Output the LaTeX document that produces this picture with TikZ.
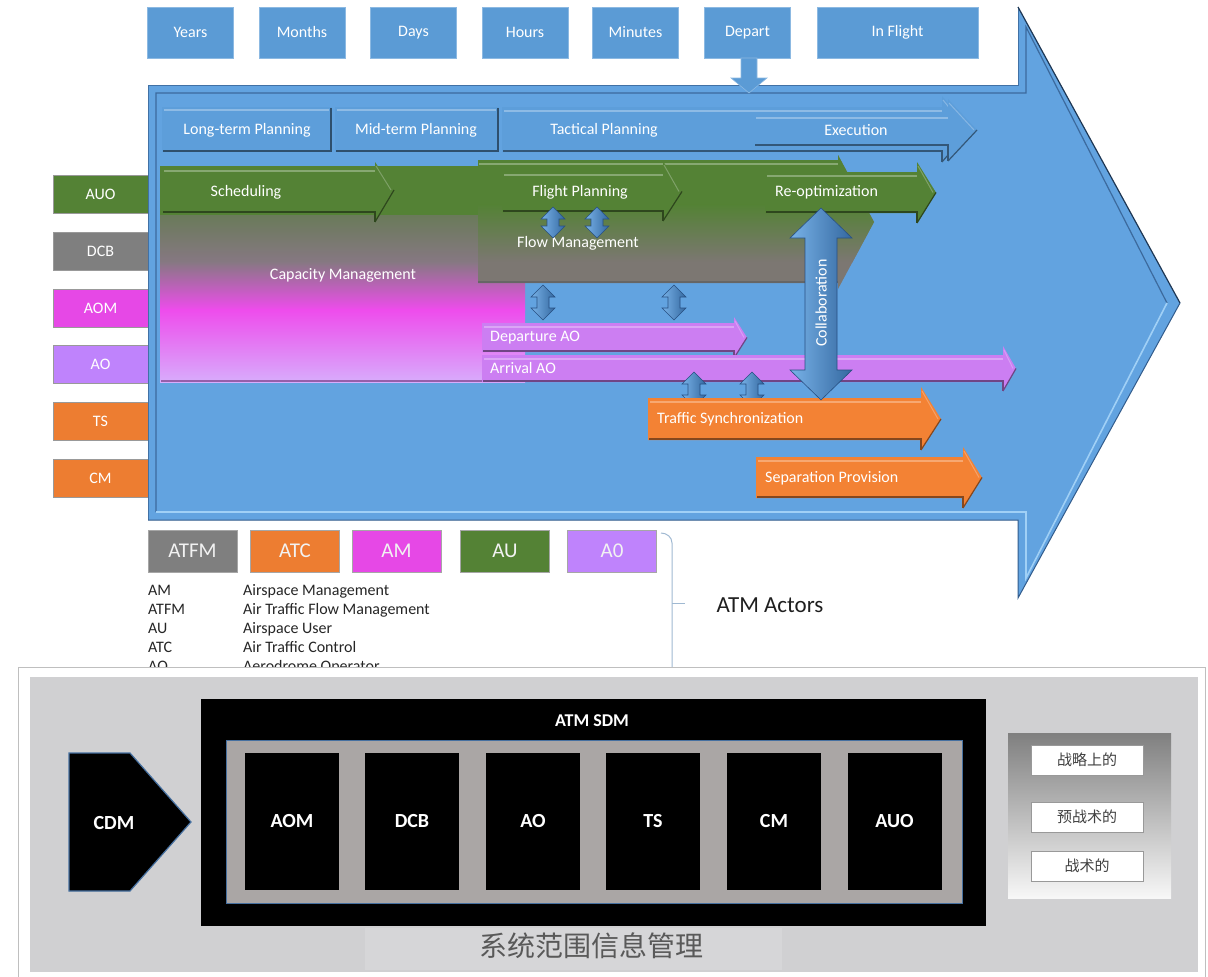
\documentclass[tikz,border=0pt]{standalone}
\usepackage{fontspec}
\setmainfont{Carlito}
\newfontfamily\cjk{Noto Sans CJK SC}
\usetikzlibrary{calc}

% palette
\definecolor{bfill}{RGB}{98,163,224}
\definecolor{bedge}{RGB}{50,92,140}
\definecolor{bhi}{RGB}{160,208,246}
\definecolor{tbox}{RGB}{91,155,213}
\definecolor{phase}{RGB}{93,158,218}
\definecolor{grn}{RGB}{84,130,53}
\definecolor{gry}{RGB}{127,127,127}
\definecolor{mag}{RGB}{230,72,230}
\definecolor{lav}{RGB}{191,131,252}
\definecolor{org}{RGB}{237,125,49}
\definecolor{parr}{RGB}{204,126,242}
\definecolor{oarr}{RGB}{243,130,52}
\definecolor{cm1}{RGB}{106,122,90}
\definecolor{cm2}{RGB}{134,120,130}
\definecolor{cm3}{RGB}{238,76,236}
\definecolor{cm4}{RGB}{216,172,252}
\definecolor{cmedge}{RGB}{150,95,170}
\definecolor{fmgray}{RGB}{124,119,114}
\definecolor{dblL}{RGB}{120,178,232}
\definecolor{dblR}{RGB}{52,104,160}
\definecolor{dblE}{RGB}{40,80,130}
\definecolor{panel}{RGB}{208,208,210}
\definecolor{band}{RGB}{214,214,216}
\definecolor{inner}{RGB}{170,166,165}
\definecolor{frameblue}{RGB}{70,112,160}
\definecolor{brk}{RGB}{160,185,210}

\tikzset{
  txt/.style={text=white, inner sep=0pt, font=\fontsize{16}{18}\selectfont},
  topbox/.style={fill=tbox, draw=tbox!70!white, line width=0.8pt, minimum width=86pt,
    minimum height=51pt, inner sep=0pt, text=white, font=\fontsize{16}{18}\selectfont},
  actor/.style={draw=black!40, line width=0.6pt, minimum width=95pt, minimum height=38pt,
    inner sep=0pt, text=white, font=\fontsize{16}{18}\selectfont},
  legbox/.style={draw=black!35, line width=0.6pt, minimum width=89pt, minimum height=42pt,
    inner sep=0pt, text=white!95!black, font=\fontsize{21}{24}\selectfont},
  legtxt/.style={inner sep=0pt, anchor=base west, text=black!85, font=\fontsize{16}{18}\selectfont},
  sdmbox/.style={fill=black, minimum width=94pt, minimum height=137pt, inner sep=0pt,
    text=white, font=\bfseries\fontsize{20}{22}\selectfont},
  stagebox/.style={fill=white, draw=black!40, line width=0.8pt, minimum width=112pt,
    minimum height=30pt, inner sep=0pt, text=black!75, font=\cjk\fontsize{15}{17}\selectfont},
  dbl/.style={left color=dblL, right color=dblR, draw=dblE, line width=0.6pt},
}

% bevelled block arrow: colour, x left, y top, y bottom, x head start, x tip, head top, head bottom, name
\newcommand{\bevelarrow}[9]{%
  \pgfmathsetmacro{\ymid}{(#3+#4)/2}%
  \coordinate (#9) at (#2,\ymid);
  \fill[#1] (#2,#3) -- (#5,#3) -- (#5,#7) -- (#6,\ymid) -- (#5,#8) -- (#5,#4) -- (#2,#4) -- cycle;
  \draw[#1!70!white, line width=2pt] (#2+2,#3+3.5) -- (#5,#3+3.5);
  \draw[#1!75!white, line width=1pt] (#5+1,#7+4) -- (#6-3,\ymid);
  \draw[#1!55!black, line width=2.2pt] (#2+1,#4-1.1) -- (#5,#4-1.1) -- (#5,#8);
  \draw[#1!55!black, line width=1.2pt] (#5,#8) -- (#6,\ymid);
}

% bevelled block: colour, x1, y1, x2, y2
\newcommand{\bevelbox}[5]{%
  \fill[#1] (#2,#3) rectangle (#4,#5);
  \draw[#1!70!white, line width=2pt] (#2+2,#3+3) -- (#4-3,#3+3);
  \draw[#1!50!black, line width=2.5pt] (#2+1,#5-1.2) -- (#4-1.2,#5-1.2) -- (#4-1.2,#3+1);
}

% vertical two-headed arrow: x centre, y top, y bottom, half shaft, half head, head length
\newcommand{\updown}[6]{%
  \path[dbl] (#1,#2) -- (#1+#5,#2+#6) -- (#1+#4,#2+#6) -- (#1+#4,#3-#6) -- (#1+#5,#3-#6)
    -- (#1,#3) -- (#1-#5,#3-#6) -- (#1-#4,#3-#6) -- (#1-#4,#2+#6) -- (#1-#5,#2+#6) -- cycle;
}

\begin{document}
\begin{tikzpicture}[x=1pt,y=-1pt]
\useasboundingbox[fill=white] (0,0) rectangle (1208,977);

% ---------- time scale ----------
\node[topbox] (years)   at (190.5,32.5) {Years};
\node[topbox] (months)  at (302,32.5)   {\raisebox{-3pt}{Months}};
\node[topbox] (days)    at (413.5,32.5) {Days};
\node[topbox] (hours)   at (525,32.5)   {Hours};
\node[topbox] (minutes) at (635.5,32.5) {\raisebox{-3pt}{Minutes}};
\node[topbox] (depart)  at (747.5,32.5) {Depart};
\node[topbox, minimum width=161pt] (inflight) at (897.5,32.5) {In Flight};

% ---------- actor labels on the left ----------
\node[actor, fill=grn] (lAUO) at (100.5,194) {AUO};
\node[actor, fill=gry] (lDCB) at (100.5,251) {DCB};
\node[actor, fill=mag] (lAOM) at (100.5,308) {AOM};
\node[actor, fill=lav] (lAO)  at (100.5,364) {AO};
\node[actor, fill=org] (lTS)  at (100.5,421) {TS};
\node[actor, fill=org] (lCM)  at (100.5,478) {CM};

% ---------- big timeline arrow ----------
\fill[bfill] (148,85) -- (1018,85) -- (1018,7) -- (1180,303) -- (1018,598) -- (1018,520) -- (148,520) -- cycle;
\draw[bedge!70!bfill, line width=1pt] (148,520) -- (148,85) -- (1018,85) -- (1018,7);
\draw[bedge!60!black, line width=1.2pt] (1018,7) -- (1180,303);
\draw[bedge, line width=1pt] (1180,303) -- (1018,598) -- (1018,520) -- (148,520);
\draw[bedge!80!bfill, line width=1.2pt] (156,512) -- (156,93) -- (1026,93) -- (1026,27) -- (1167,303);
\draw[bhi, line width=1.6pt] (156,512) -- (1026,512) -- (1026,578) -- (1167,303);

% departure marker
\fill[tbox, draw=tbox!70!white, line width=0.6pt] (741,58) -- (757,58) -- (757,78) -- (767,78) -- (749,93) -- (731,78) -- (741,78) -- cycle;

% ---------- planning phases ----------
\bevelbox{phase}{162}{107}{332}{152}
\bevelbox{phase}{335}{107}{499}{152}
\bevelarrow{phase}{502}{107}{152}{942}{970}{96}{162}{pTac}
\bevelarrow{phase}{754}{114}{146}{948}{977}{99}{161}{pExe}
\node[txt] (tLong) at (247,130) {Long-term Planning};
\node[txt] (tMid)  at (416,130) {Mid-term Planning};
\node[txt] (tTac)  at (604,130) {Tactical Planning};
\node[txt] (tExe)  at (856,130) {Execution};

% ---------- capacity management ----------
\fill[grn] (160,166) rectangle (525,216);
\shade[top color=cm1, bottom color=cm2] (160,215.5) rectangle (525,262);
\shade[top color=cm2, bottom color=cm3] (160,261.5) rectangle (525,310);
\shade[top color=cm3, bottom color=cm4] (160,309.5) rectangle (525,382);
\draw[cmedge, line width=2pt] (161,381) -- (524,381);
\bevelarrow{grn}{162}{167}{213}{375}{394}{162}{222}{aSched}
\node[txt] (tSched) at (246,192) {Scheduling};
\node[txt] (tCap) at (343,275) {Capacity Management};

% ---------- flow management ----------
\begin{scope}
  \clip (478,160) -- (838,160) -- (838,155) -- (874,222) -- (838,289) -- (838,283) -- (478,283) -- cycle;
  \fill[fmgray] (470,150) rectangle (880,295);
  \fill[grn] (470,150) rectangle (880,205);
  \shade[top color=grn, bottom color=fmgray] (470,204.5) rectangle (880,262);
  \draw[grn!70!white, line width=1.5pt] (479,164) -- (838,164);
  \draw[black!60, line width=2.5pt] (478,282) -- (838,282);
\end{scope}
\bevelarrow{grn}{502}{171}{212}{663}{682}{161}{221}{aFP}
\bevelarrow{grn}{765}{172}{213}{917}{936}{162}{223}{aReopt}
\node[txt] (tFP) at (580,192) {Flight Planning};
\node[txt] (tFM) at (578,243) {Flow Management};
\node[txt, anchor=west] (tRe) at (775,192) {Re-optimization};

% small exchanges
\updown{553}{207}{238}{6}{12}{12}
\updown{597}{207}{238}{6}{12}{12}
\updown{543}{285}{320}{6}{12}{12}
\updown{674}{285}{320}{6}{12}{12}

% ---------- aerodrome operations ----------
\bevelarrow{parr}{482}{323}{352}{734}{747}{317}{358}{aDep}
\bevelarrow{parr}{482}{355}{382}{1003}{1016}{346}{391}{aArr}
\node[txt, anchor=west] (tDep) at (490,338) {Departure AO};
\node[txt, anchor=west] (tArr) at (490,368) {Arrival AO};

\updown{694}{372}{407}{6}{12}{12}
\updown{752}{372}{407}{6}{12}{12}

% ---------- traffic / separation ----------
\bevelarrow{oarr}{648}{398}{440}{921}{941}{387}{450}{aTS}
\bevelarrow{oarr}{756}{457}{498}{963}{982}{447}{508}{aSP}
\node[txt, anchor=west] (tTS) at (657,419) {Traffic Synchronization};
\node[txt, anchor=west] (tSP) at (765,478) {Separation Provision};

% collaboration
\updown{821}{208}{400}{16}{31}{30}
\node[txt, rotate=90] (tCol) at (821,303) {Collaboration};

% ---------- legend ----------
\node[legbox, fill=gry] (kATFM) at (192.5,551) {ATFM};
\node[legbox, fill=org] (kATC)  at (295,551)   {ATC};
\node[legbox, fill=mag] (kAM)   at (396.5,551) {AM};
\node[legbox, fill=grn] (kAU)   at (505,551)   {AU};
\node[legbox, fill=lav] (kAO)   at (612,551)   {A0};

\node[legtxt] (aAM)   at (148,595) {AM};
\node[legtxt] (aATFM) at (148,614) {ATFM};
\node[legtxt] (aAU)   at (148,633) {AU};
\node[legtxt] (aATC)  at (148,652) {ATC};
\node[legtxt] (aAO)   at (148,671) {AO};
\node[legtxt] (dAM)   at (243,595) {Airspace Management};
\node[legtxt] (dATFM) at (243,614) {Air Traffic Flow Management};
\node[legtxt] (dAU)   at (243,633) {Airspace User};
\node[legtxt] (dATC)  at (243,652) {Air Traffic Control};
\node[legtxt] (dAO)   at (243,671) {Aerodrome Operator};

\coordinate (brTop) at (661,533);
\coordinate (brTip) at (685,603);
\draw[brk, line width=1pt] (brTop) to[out=0,in=90] (672,543) -- (672,690);
\draw[brk, line width=1pt] (672,603) -- (brTip);
\node[inner sep=0pt, text=black!88, font=\fontsize{23}{26}\selectfont] (actors) at (770,605) {ATM Actors};

% ---------- system wide information management ----------
\fill[white] (18,667) rectangle (1208,977);
\draw[black!25, line width=1pt] (18,977) -- (18,667) -- (1205,667) -- (1205,977);
\fill[panel] (30,677) rectangle (1198,972);
\fill[band] (365,928) rectangle (782,970);

\fill[black] (201,699) rectangle (986,926);
\node[inner sep=0pt, text=white, font=\bfseries\fontsize{18}{20}\selectfont] (sdm) at (592,721) {ATM SDM};
\draw[fill=inner, draw=frameblue, line width=1pt] (226,740) rectangle (962,903);

\node[sdmbox] (bAOM) at (292,821.5)   {AOM};
\node[sdmbox] (bDCB) at (412,821.5)   {DCB};
\node[sdmbox] (bAO)  at (533,821.5)   {AO};
\node[sdmbox] (bTS)  at (653,821.5)   {TS};
\node[sdmbox] (bCM)  at (774,821.5)   {CM};
\node[sdmbox] (bAUO) at (894.5,821.5) {AUO};

\fill[black] (69,753) -- (130,753) -- (191,822) -- (130,891) -- (69,891) -- cycle;
\draw[frameblue, line width=1.2pt] (69,753) -- (130,753) -- (191,822) -- (130,891) -- (69,891) -- cycle;
\node[inner sep=0pt, text=white, font=\bfseries\fontsize{20}{22}\selectfont] (cdm) at (114,823) {CDM};

\node[inner sep=0pt, text=black!65, font=\cjk\fontsize{28}{30}\selectfont] (swim) at (591,946) {系统范围信息管理};

\shade[top color=black!50, bottom color=white!97!black] (1008,733) rectangle (1171,898);
\node[stagebox] (sStrat) at (1087,760) {战略上的};
\node[stagebox] (sPre)   at (1087,817) {预战术的};
\node[stagebox] (sTac)   at (1087,866) {战术的};

\end{tikzpicture}
\end{document}
